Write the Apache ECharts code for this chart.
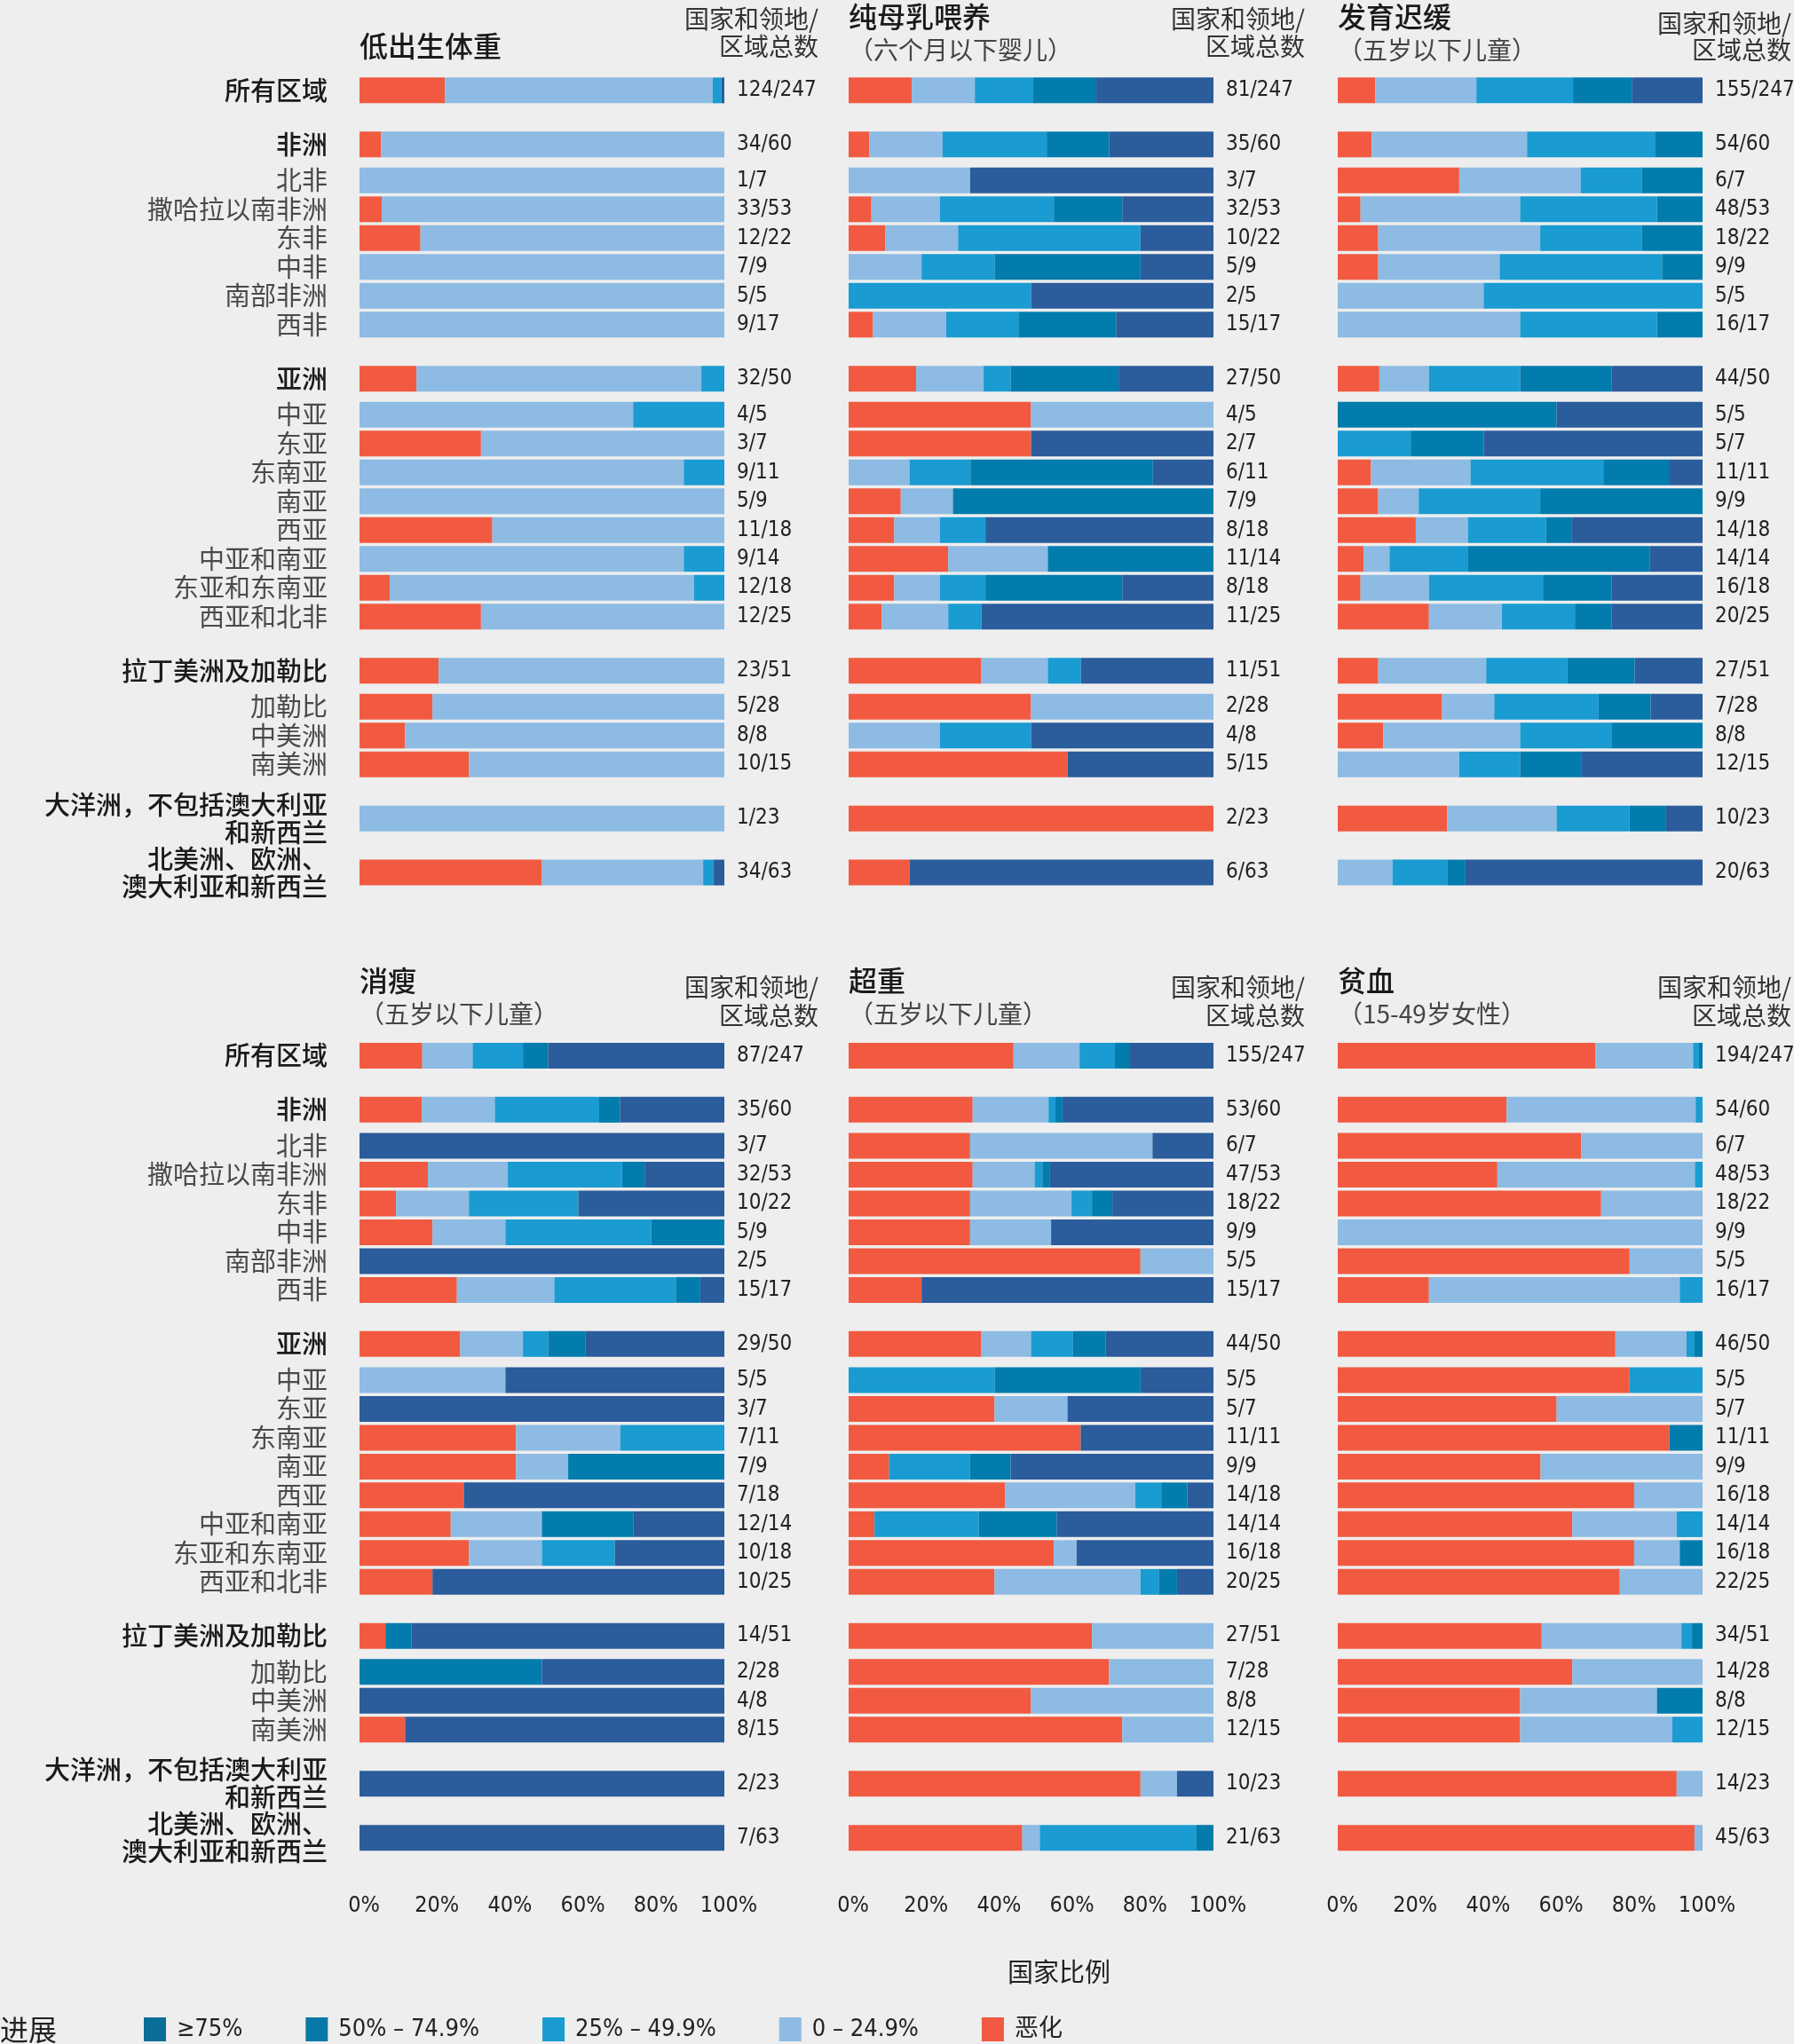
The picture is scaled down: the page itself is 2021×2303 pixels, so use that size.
<!DOCTYPE html>
<html><head><meta charset="utf-8">
<script src="https://cdn.jsdelivr.net/npm/echarts@6/dist/echarts.min.js"></script>
<style>html,body{margin:0;padding:0;background:#eeeeee;} #chart{width:2021px;height:2303px;}</style>
</head><body><div id="chart"></div><script>
// ---------------- DATA ----------------
const regions = ['所有区域','非洲','北非','撒哈拉以南非洲','东非','中非','南部非洲','西非',
  '亚洲','中亚','东亚','东南亚','南亚','西亚','中亚和南亚','东亚和东南亚','西亚和北非',
  '拉丁美洲及加勒比','加勒比','中美洲','南美洲','大洋洲，不包括澳大利亚\n和新西兰','北美洲、欧洲、\n澳大利亚和新西兰'];
// 0 = group row, 1 = sub-region row
const regionLevel = [0,0,1,1,1,1,1,1,0,1,1,1,1,1,1,1,1,0,1,1,1,0,0];

const progressCategories = ['恶化','0 – 24.9%','25% – 49.9%','50% – 74.9%','≥75%'];
const legendOrder = ['≥75%','50% – 74.9%','25% – 49.9%','0 – 24.9%','恶化'];
const tickLabels = [0,20,40,60,80,100];

// each row: [恶化, 0–24.9%, 25–49.9%, 50–74.9%, ≥75%]  (share of countries, %)
const lowBirthWeight = [
  [23.4,73.4,2.4,0,0.8],[5.9,94.1,0,0,0],[0,100,0,0,0],[6.1,93.9,0,0,0],[16.7,83.3,0,0,0],[0,100,0,0,0],[0,100,0,0,0],[0,100,0,0,0],
  [15.6,78.1,6.3,0,0],[0,75,25,0,0],[33.3,66.7,0,0,0],[0,88.9,11.1,0,0],[0,100,0,0,0],[36.4,63.6,0,0,0],[0,88.9,11.1,0,0],[8.3,83.4,8.3,0,0],[33.3,66.7,0,0,0],
  [21.7,78.3,0,0,0],[20,80,0,0,0],[12.5,87.5,0,0,0],[30,70,0,0,0],[0,100,0,0,0],[50,44.2,2.9,0,2.9]];
const lowBirthWeightCounts = ['124/247','34/60','1/7','33/53','12/22','7/9','5/5','9/17','32/50','4/5','3/7','9/11','5/9','11/18','9/14','12/18','12/25','23/51','5/28','8/8','10/15','1/23','34/63'];

const exclusiveBreastfeeding = [
  [17.3,17.3,16.0,17.3,32.1],[5.7,20,28.6,17.1,28.6],[0,33.3,0,0,66.7],[6.25,18.75,31.25,18.75,25],[10,20,50,0,20],[0,20,20,40,20],[0,0,50,0,50],[6.7,20,20,26.7,26.6],
  [18.5,18.5,7.4,29.6,26],[50,50,0,0,0],[50,0,0,0,50],[0,16.7,16.7,50,16.6],[14.3,14.3,0,71.4,0],[12.5,12.5,12.5,0,62.5],[27.3,27.3,0,45.4,0],[12.5,12.5,12.5,37.5,25],[9.1,18.2,9.1,0,63.6],
  [36.4,18.2,9.1,0,36.3],[50,50,0,0,0],[0,25,25,0,50],[60,0,0,0,40],[100,0,0,0,0],[16.7,0,0,0,83.3]];
const exclusiveBreastfeedingCounts = ['81/247','35/60','3/7','32/53','10/22','5/9','2/5','15/17','27/50','4/5','2/7','6/11','7/9','8/18','11/14','8/18','11/25','11/51','2/28','4/8','5/15','2/23','6/63'];

const stunting = [
  [10.3,27.7,26.5,16.1,19.4],[9.3,42.6,35.2,12.9,0],[33.3,33.3,16.7,16.7,0],[6.25,43.75,37.5,12.5,0],[11.1,44.4,27.8,16.7,0],[11.1,33.3,44.5,11.1,0],[0,40,60,0,0],[0,50,37.5,12.5,0],
  [11.4,13.6,25,25,25],[0,0,0,60,40],[0,0,20,20,60],[9.1,27.3,36.4,18.2,9],[11.1,11.1,33.3,44.5,0],[21.4,14.3,21.4,7.1,35.8],[7.1,7.1,21.4,50,14.4],[6.25,18.75,31.25,18.75,25],[25,20,20,10,25],
  [11.1,29.6,22.2,18.5,18.6],[28.6,14.3,28.6,14.3,14.2],[12.5,37.5,25,25,0],[0,33.3,16.7,16.7,33.3],[30,30,20,10,10],[0,15,15,5,65]];
const stuntingCounts = ['155/247','54/60','6/7','48/53','18/22','9/9','5/5','16/17','44/50','5/5','5/7','11/11','9/9','14/18','14/14','16/18','20/25','27/51','7/28','8/8','12/15','10/23','20/63'];

const wasting = [
  [17.2,13.8,13.8,6.9,48.3],[17.1,20,28.6,5.7,28.6],[0,0,0,0,100],[18.75,21.9,31.25,6.25,21.85],[10,20,30,0,40],[20,20,40,20,0],[0,0,0,0,100],[26.7,26.7,33.3,6.7,6.6],
  [27.6,17.2,6.9,10.3,38],[0,40,0,0,60],[0,0,0,0,100],[42.9,28.6,28.5,0,0],[42.9,14.3,0,42.8,0],[28.6,0,0,0,71.4],[25,25,0,25,25],[30,20,20,0,30],[20,0,0,0,80],
  [7.1,0,0,7.1,85.8],[0,0,0,50,50],[0,0,0,0,100],[12.5,0,0,0,87.5],[0,0,0,0,100],[0,0,0,0,100]];
const wastingCounts = ['87/247','35/60','3/7','32/53','10/22','5/9','2/5','15/17','29/50','5/5','3/7','7/11','7/9','7/18','12/14','10/18','10/25','14/51','2/28','4/8','8/15','2/23','7/63'];

const overweight = [
  [45.2,18.1,9.7,3.9,23.1],[34,20.8,1.9,1.9,41.4],[33.3,50,0,0,16.7],[34,17,2.1,2.1,44.8],[33.3,27.8,5.6,5.6,27.7],[33.3,22.2,0,0,44.5],[80,20,0,0,0],[20,0,0,0,80],
  [36.4,13.6,11.4,9.1,29.5],[0,0,40,40,20],[40,20,0,0,40],[63.6,0,0,0,36.4],[11.1,0,22.2,11.1,55.6],[42.9,35.7,7.1,7.1,7.2],[7.1,0,28.6,21.4,42.9],[56.25,6.25,0,0,37.5],[40,40,5,5,10],
  [66.7,33.3,0,0,0],[71.4,28.6,0,0,0],[50,50,0,0,0],[75,25,0,0,0],[80,10,0,0,10],[47.6,4.8,42.8,4.8,0]];
const overweightCounts = ['155/247','53/60','6/7','47/53','18/22','9/9','5/5','15/17','44/50','5/5','5/7','11/11','9/9','14/18','14/14','16/18','20/25','27/51','7/28','8/8','12/15','10/23','21/63'];

const anaemia = [
  [70.6,26.8,1.6,1.0,0],[46.3,51.8,1.9,0,0],[66.7,33.3,0,0,0],[43.75,54.15,2.1,0,0],[72.2,27.8,0,0,0],[0,100,0,0,0],[80,20,0,0,0],[25,68.75,6.25,0,0],
  [76.1,19.5,2.2,2.2,0],[80,0,20,0,0],[60,40,0,0,0],[90.9,0,0,9.1,0],[55.6,44.4,0,0,0],[81.25,18.75,0,0,0],[64.3,28.6,7.1,0,0],[81.25,12.5,0,6.25,0],[77.3,22.7,0,0,0],
  [55.9,38.3,2.9,2.9,0],[64.3,35.7,0,0,0],[50,37.5,0,12.5,0],[50,41.7,8.3,0,0],[92.9,7.1,0,0,0],[97.8,2.2,0,0,0]];
const anaemiaCounts = ['194/247','54/60','6/7','48/53','18/22','9/9','5/5','16/17','46/50','5/5','5/7','11/11','9/9','16/18','14/14','16/18','22/25','34/51','14/28','8/8','12/15','14/23','45/63'];

const panelTitles = ['低出生体重','纯母乳喂养','发育迟缓','消瘦','超重','贫血'];
const panelSubtitles = ['','（六个月以下婴儿）','（五岁以下儿童）','（五岁以下儿童）','（五岁以下儿童）','（15-49岁女性）'];
const panelValues = [lowBirthWeight, exclusiveBreastfeeding, stunting, wasting, overweight, anaemia];
const panelCounts = [lowBirthWeightCounts, exclusiveBreastfeedingCounts, stuntingCounts, wastingCounts, overweightCounts, anaemiaCounts];
const countHeader = ['国家和领地/','区域总数'];
const xAxisTitle = '国家比例';
const legendTitle = '进展';

// ---------------- STYLE / LAYOUT ----------------
const colors = {'恶化':'#f15a40','0 – 24.9%':'#8dbbe3','25% – 49.9%':'#1a9bd1','50% – 74.9%':'#017cad','≥75%':'#2b5c9b'};
const legendIconColors = {'≥75%':'#0b6e97','50% – 74.9%':'#0779a9','25% – 49.9%':'#1a9bd1','0 – 24.9%':'#8dbbe3','恶化':'#f15a40'};
const NUM_FONT = '"Liberation Sans Narrow","Arial Narrow","DejaVu Sans Condensed","Noto Sans CJK SC",sans-serif';
const CJK_FONT = '"Noto Sans CJK SC","Noto Sans",sans-serif';
const colLeft = [405, 956, 1507];
const colWidth = 411;
const rowTop = [99.8, 1187.4];
const gridHeight = 885.3;
const BAR_H = 29;
const STEP_GROUP = 15, STEP_FIRST_CHILD = 10, STEP_CHILD = 8;

// slot positions on the category axis (fine-grained blank categories give the group spacing)
const rowSlot = [];
regionLevel.forEach((lv, i) => {
  if (i === 0) { rowSlot.push(0); return; }
  const step = lv === 0 ? STEP_GROUP : (regionLevel[i-1] === 0 ? STEP_FIRST_CHILD : STEP_CHILD);
  rowSlot.push(rowSlot[i-1] + step);
});
const nSlots = rowSlot[rowSlot.length-1] + 1;
const slotToRow = {};
rowSlot.forEach((s, i) => { slotToRow[s] = i; });
const slotCats = Array.from({length: nSlots}, (_, i) => 's' + i);

const grids = [], xAxes = [], yAxes = [], series = [], graphics = [];
panelValues.forEach((vals, p) => {
  const col = p % 3, row = Math.floor(p / 3);
  grids.push({left: colLeft[col], top: rowTop[row], width: colWidth, height: gridHeight, containLabel: false, outerBoundsMode: 'none'});
  xAxes.push({
    gridIndex: p, type: 'value', min: 0, max: 100, interval: 20,
    axisLine: {show: false}, axisTick: {show: false}, splitLine: {show: false},
    axisLabel: {show: row === 1, formatter: v => tickLabels.includes(v) ? v + '%' : '', margin: 62,
      fontFamily: NUM_FONT, fontSize: 25, lineHeight: 25, color: '#222', padding: [0,0,0,10]}
  });
  yAxes.push({
    gridIndex: p, type: 'category', data: slotCats, inverse: true, position: 'left',
    axisLine: {show: false}, axisTick: {show: false}, splitLine: {show: false},
    axisLabel: {
      show: col === 0, interval: 0, margin: 36,
      formatter: (v, idx) => {
        const r = slotToRow[idx];
        if (r === undefined) return '';
        const st = regionLevel[r] === 0 ? 'h' : 'c';
        return regions[r].split('\n').map(l => '{' + st + '|' + l + '}').join('\n');
      },
      rich: {
        h: {fontFamily: CJK_FONT, fontSize: 29, color: '#1a1a1a', lineHeight: 31, fontWeight: 500},
        c: {fontFamily: CJK_FONT, fontSize: 29, color: '#4a4a4a', lineHeight: 30}
      }
    }
  });
  yAxes.push({
    gridIndex: p, type: 'category', data: slotCats, inverse: true, position: 'right',
    axisLine: {show: false}, axisTick: {show: false}, splitLine: {show: false},
    axisLabel: {
      interval: 0, margin: 14, align: 'left',
      formatter: (v, idx) => { const r = slotToRow[idx]; return r === undefined ? '' : panelCounts[p][r]; },
      fontFamily: NUM_FONT, fontSize: 24, color: '#222'
    }
  });
  progressCategories.forEach((name, k) => {
    const d = new Array(nSlots).fill('-');
    vals.forEach((rowVals, r) => { d[rowSlot[r]] = rowVals[k]; });
    series.push({
      type: 'bar', name, stack: 'panel' + p, xAxisIndex: p, yAxisIndex: 2 * p, clip: false,
      barWidth: BAR_H, data: d, itemStyle: {color: colors[name]}, silent: true
    });
  });
  // titles
  const tTop = row === 0 ? 0 : 1088;
  if (panelSubtitles[p]) {
    graphics.push({type: 'text', x: colLeft[col], y: tTop + (row === 0 ? 19 : 17),
      style: {text: panelTitles[p], fill: '#1a1a1a', fontFamily: CJK_FONT, fontSize: 32, fontWeight: 500, align: 'left', verticalAlign: 'middle'}});
    graphics.push({type: 'text', x: colLeft[col], y: tTop + (row === 0 ? 56 : 54),
      style: {text: panelSubtitles[p], fill: '#444', fontFamily: CJK_FONT, fontSize: 28, align: 'left', verticalAlign: 'middle'}});
  } else {
    graphics.push({type: 'text', x: colLeft[col], y: tTop + 52,
      style: {text: panelTitles[p], fill: '#1a1a1a', fontFamily: CJK_FONT, fontSize: 32, fontWeight: 500, align: 'left', verticalAlign: 'middle'}});
  }
  const hx = [922, 1470, 2018][col];
  const hy = row === 0 ? (col === 2 ? [26, 56] : [21, 52]) : [1112, 1144];
  countHeader.forEach((t, i) => {
    graphics.push({type: 'text', x: hx, y: hy[i],
      style: {text: t, fill: '#333', fontFamily: CJK_FONT, fontSize: 28, align: 'right', verticalAlign: 'middle'}});
  });
});

graphics.push({type: 'text', x: 1193, y: 2222,
  style: {text: xAxisTitle, fill: '#222', fontFamily: CJK_FONT, fontSize: 29, align: 'center', verticalAlign: 'middle'}});
graphics.push({type: 'text', x: 0, y: 2287,
  style: {text: legendTitle, fill: '#222', fontFamily: CJK_FONT, fontSize: 32, align: 'left', verticalAlign: 'middle'}});

const option = {
  backgroundColor: '#eeeeee',
  animation: false,
  grid: grids, xAxis: xAxes, yAxis: yAxes, series,
  graphic: graphics,
  legend: {
    left: 162, top: 2273, orient: 'horizontal', itemWidth: 25, itemHeight: 27, itemGap: 71, padding: 0,
    selectedMode: false,
    data: legendOrder.map(n => ({name: n, icon: 'rect', itemStyle: {color: legendIconColors[n]}})),
    textStyle: {fontFamily: NUM_FONT, fontSize: 27, lineHeight: 27, color: '#222', padding: [0,0,0,7]}
  }
};
const chart = echarts.init(document.getElementById('chart'), null, {renderer: 'canvas'});
chart.setOption(option);
</script></body></html>
